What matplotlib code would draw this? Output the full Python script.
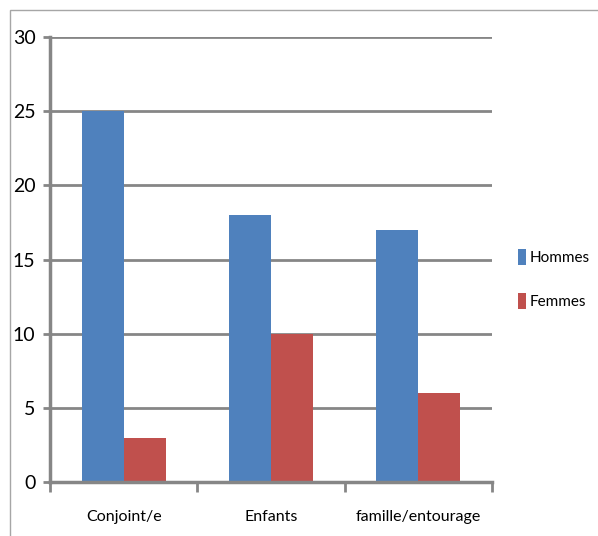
import matplotlib
matplotlib.use("Agg")
import matplotlib.pyplot as plt
from matplotlib.patches import Rectangle
import numpy as np

categories = ["Conjoint/e", "Enfants", "famille/entourage"]
hommes = [25, 18, 17]
femmes = [3, 10, 6]
yticks = [0, 5, 10, 15, 20, 25, 30]

plt.rcParams['font.family'] = ['Lato', 'DejaVu Sans']

fig = plt.figure(figsize=(5.98, 5.36), dpi=100)
ax = fig.add_axes([0.0836, 0.1007, 0.739, 0.830])

# figure frame (cut off at right/bottom)
fig.patches.append(Rectangle((10 / 598, -0.05), 1.1, 1 - 10 / 536 + 0.05,
                             transform=fig.transFigure, fill=False,
                             edgecolor="#a6a6a6", linewidth=1.0))

x = np.arange(len(categories))
w = 0.286
ax.bar(x - w / 2, hommes, w, color="#4F81BD", label="Hommes", zorder=3)
ax.bar(x + w / 2, femmes, w, color="#C0504D", label="Femmes", zorder=3)

ax.set_xlim(-0.5, 2.5)
ax.set_ylim(0, 30)
ax.set_yticks(yticks)
ax.set_xticks(x)
ax.set_xticklabels(categories, fontsize=11.5)
ax.set_xticks([-0.5, 0.5, 1.5, 2.5], minor=True)
ax.tick_params(axis="x", which="major", length=0, pad=20)
ax.tick_params(axis="x", which="minor", length=7, width=2, color="#868686")
ax.tick_params(axis="y", length=5, width=2, color="#868686", labelsize=14, pad=5.5)

ax.grid(axis="y", color="#868686", linewidth=2, zorder=0)
for s in ["top", "right"]:
    ax.spines[s].set_visible(False)
for s in ["left", "bottom"]:
    ax.spines[s].set_color("#868686")
    ax.spines[s].set_linewidth(2.5)
ax.spines["bottom"].set_zorder(4)

fig.legend(loc="upper left", bbox_to_anchor=(0.843, 0.562), frameon=False,
           fontsize=11, handlelength=0.55, handleheight=1.25, handletextpad=0.25,
           labelspacing=1.85)

fig.savefig("out.png", dpi=100)
